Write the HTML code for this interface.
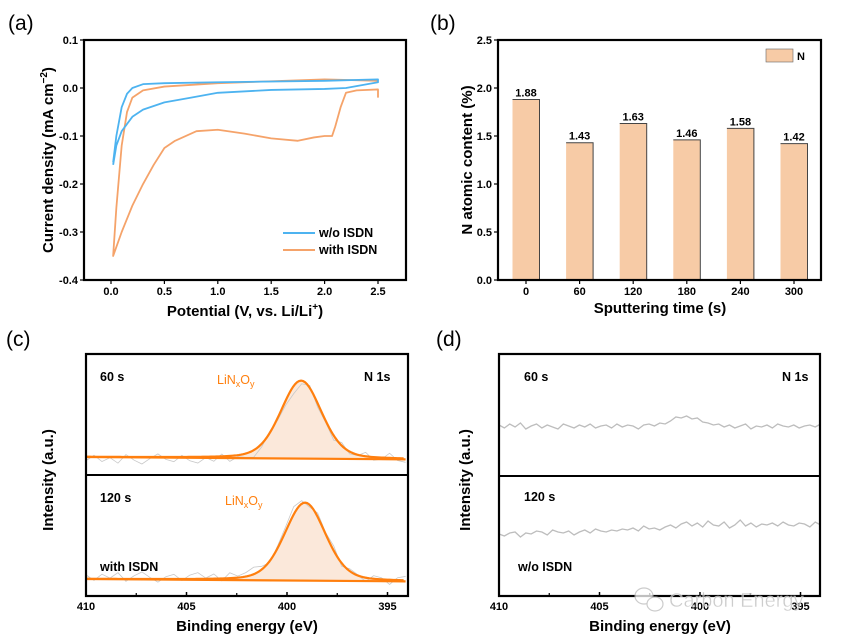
<!DOCTYPE html>
<html><head><meta charset="utf-8">
<style>
html,body{margin:0;padding:0;background:#fff;}
svg{display:block;font-family:"Liberation Sans",Arial,sans-serif;}
.tk{font-size:11px;font-weight:bold;fill:#000;}
.at{font-size:15px;font-weight:bold;fill:#000;}
.pl{font-size:21px;fill:#000;}
.lb{font-size:12.5px;font-weight:bold;fill:#000;}
</style></head>
<body>
<svg id="fig" width="841" height="638" viewBox="0 0 841 638"></svg>
<script>
// ---- Panel (a) data ----
const cvBlueV=[0.02,0.05,0.1,0.15,0.2,0.3,0.5,1.0,2.0,2.5,2.5,2.2,2.0,1.5,1.0,0.75,0.5,0.3,0.2,0.1,0.05,0.02];
const cvBlueI=[-0.155,-0.1,-0.04,-0.012,0.0,0.008,0.01,0.012,0.015,0.018,0.012,0.0,-0.002,-0.004,-0.01,-0.02,-0.03,-0.045,-0.06,-0.09,-0.12,-0.16];
const cvOrangeV=[2.5,2.5,2.3,2.2,2.15,2.1,2.07,2.0,1.9,1.75,1.5,1.25,1.0,0.8,0.6,0.5,0.4,0.3,0.2,0.1,0.02,0.05,0.1,0.15,0.2,0.3,0.5,1.0,2.0,2.5];
const cvOrangeI=[-0.02,-0.003,-0.005,-0.01,-0.04,-0.08,-0.1,-0.1,-0.103,-0.11,-0.105,-0.095,-0.087,-0.09,-0.11,-0.125,-0.16,-0.2,-0.245,-0.3,-0.35,-0.25,-0.12,-0.05,-0.02,-0.005,0.003,0.01,0.018,0.015];
const aXTicks=[0,0.5,1.0,1.5,2.0,2.5];
const aYTicks=[0.1,0,-0.1,-0.2,-0.3,-0.4];
// ---- Panel (b) data ----
const bCats=["0","60","120","180","240","300"];
const bVals=[1.88,1.43,1.63,1.46,1.58,1.42];
const bYTicks=[0,0.5,1.0,1.5,2.0,2.5];
// ---- Panel (c) data ----
const xpsTicks=[410,405,400,395];
const cCenters=[399.3,399.1];
const cFwhm=[2.4,2.4];
const cHeights=[1,1];
const cResid=[0.05,-0.02,0.06,0.01,0.08,-0.03,0.04,0.09,0.02,-0.04,0.03,0.06,-0.02,0.05,0.08,0.01,0.06,-0.03,0.07,0.02,0.05,0.09,0.04,-0.02,0.03,0.06,0.1,0.04,-0.03,0.05,0.02,0.06,-0.04,0.03,0.01,-0.05,0.04,0.02,-0.06,0.03,0.05];
// ---- Panel (d) data ----
const dTop=[0.2,-0.1,0.3,0,0.4,-0.2,0.1,0.3,-0.1,0.2,0,-0.2,0.3,0.1,-0.1,0.2,0,0.3,-0.1,0.1,0.2,-0.1,0.3,0,0.2,0.1,-0.2,0.2,0.3,0.1,0.4,0.3,0.6,1.0,0.9,1.1,0.8,0.9,0.5,0.4,0.2,0.3,0,0.2,-0.1,0.1,0.3,-0.2,0.1,0,0.2,-0.1,0.3,0.1,0,0.2,-0.1,0.1,0.2,0,0.3];
const dBot=[0,-0.2,0.1,0.2,-0.3,0.1,0,0.3,0.2,-0.1,0.4,0.2,0.1,0.3,-0.1,0.2,0.4,0.1,0.5,0.3,0.2,0.4,0.3,0.5,0.4,0.6,0.3,0.8,0.5,0.6,0.4,0.7,0.9,0.6,1.0,1.2,0.8,1.1,0.7,1.3,0.9,0.8,1.2,0.6,0.9,1.4,0.8,1.1,0.7,1.0,0.9,1.1,0.8,1.2,0.9,0.8,1.1,1.0,0.7,1.2,0.9];

const NS="http://www.w3.org/2000/svg";
const svg=document.getElementById('fig');
function mk(tag,attrs,parent,txt){const e=document.createElementNS(NS,tag);for(const k in attrs)e.setAttribute(k,attrs[k]);if(txt!==undefined)e.textContent=txt;(parent||svg).appendChild(e);return e;}
function pathD(xs,ys){return xs.map((x,i)=>(i?'L':'M')+x.toFixed(2)+','+ys[i].toFixed(2)).join('');}

// ===== Panel (a) =====
const ax=v=>111+(v-0)*(378-111)/2.5;
const ay=v=>280-(v+0.4)*(240/0.5);
let t=mk('text',{x:8,y:30,class:'pl'},svg,'(a)');


aYTicks.forEach(v=>{
 const l=mk('line',{x1:84,x2:80,y1:ay(v),y2:ay(v),stroke:'#000','stroke-width':1.2});
 
 
 const tx=mk('text',{x:78,y:ay(v)+4,class:'tk','text-anchor':'end'},svg,v===0?'0.0':v.toFixed(1));
 
 
});
aXTicks.forEach(v=>{
 const l=mk('line',{x1:ax(v),x2:ax(v),y1:280,y2:284,stroke:'#000','stroke-width':1.2});
 
 
 const tx=mk('text',{x:ax(v),y:295,class:'tk','text-anchor':'middle'},svg,v.toFixed(1));
 
 
});
let p=mk('path',{d:pathD(cvOrangeV.map(ax),cvOrangeI.map(ay)),fill:'none',stroke:'#f5a36a','stroke-width':1.8,'stroke-linejoin':'round'});


p=mk('path',{d:pathD(cvBlueV.map(ax),cvBlueI.map(ay)),fill:'none',stroke:'#4db3f0','stroke-width':1.8,'stroke-linejoin':'round'});


let r=mk('rect',{x:84,y:40,width:322,height:240,fill:'none',stroke:'#000','stroke-width':2.2});


let l=mk('line',{x1:283,x2:315,y1:233,y2:233,stroke:'#4db3f0','stroke-width':2});


t=mk('text',{x:319,y:237,class:'lb'},svg,'w/o ISDN');


l=mk('line',{x1:283,x2:315,y1:250,y2:250,stroke:'#f5a36a','stroke-width':2});


t=mk('text',{x:319,y:254,class:'lb'},svg,'with ISDN');


t=mk('text',{x:245,y:316,class:'at','text-anchor':'middle'});
t.innerHTML='Potential (V, vs. Li/Li<tspan dy="-6" font-size="10">+</tspan><tspan dy="6">)</tspan>';


t=mk('text',{x:0,y:0,class:'at','text-anchor':'middle',transform:'translate(53,160) rotate(-90)'});
t.innerHTML='Current density (mA cm<tspan dy="-6" font-size="10">−2</tspan><tspan dy="6">)</tspan>';



// ===== Panel (b) =====
const bx=i=>526+i*53.6;
const by=v=>280-v*(240/2.5);
t=mk('text',{x:430,y:30,class:'pl'},svg,'(b)');


bYTicks.forEach(v=>{
 const l=mk('line',{x1:498,x2:494,y1:by(v),y2:by(v),stroke:'#000','stroke-width':1.2});
 
 
 const tx=mk('text',{x:492,y:by(v)+4,class:'tk','text-anchor':'end'},svg,v.toFixed(1));
 
 
});
bCats.forEach((c,i)=>{
 const x=bx(i),v=bVals[i];
 const rc=mk('rect',{x:x-13.5,y:by(v),width:27,height:280-by(v),fill:'#f7cba6'});
 
 
 const e=mk('path',{d:`M${x-13.5},${by(v)}H${x+13.5}V280`,fill:'none',stroke:'#444','stroke-width':1});
 
 
 const tx=mk('text',{x:x,y:by(v)-3,class:'tk','text-anchor':'middle'},svg,v.toFixed(2));
 
 
 const tk=mk('line',{x1:x,x2:x,y1:280,y2:284,stroke:'#000','stroke-width':1.2});
 
 
 const cl=mk('text',{x:x,y:295,class:'tk','text-anchor':'middle'},svg,c);
 
 
});
r=mk('rect',{x:498,y:40,width:323,height:240,fill:'none',stroke:'#000','stroke-width':2.2});


r=mk('rect',{x:766,y:49,width:27,height:13,fill:'#f7cba6',stroke:'#666','stroke-width':0.6});


t=mk('text',{x:797,y:60,class:'tk'},svg,'N');


t=mk('text',{x:660,y:313,class:'at','text-anchor':'middle'},svg,'Sputtering time (s)');


t=mk('text',{x:0,y:0,class:'at','text-anchor':'middle',transform:'translate(472,160) rotate(-90)'},svg,'N atomic content (%)');



// ===== XPS helper =====
function pv(e,c,f,h){const s=f/2.3548,g=Math.exp(-0.5*((e-c)/s)**2),lz=1/(1+((e-c)/(f/2))**2);return h*(0.75*g+0.25*lz);}
function xpsAxes(x0,x1,name){
 const sx=e=>x0+(410-e)*20.1;
 xpsTicks.forEach(v=>{
  const l=mk('line',{x1:sx(v),x2:sx(v),y1:596,y2:592,stroke:'#000','stroke-width':1.5});
  
  
  const tx=mk('text',{x:sx(v),y:610,class:'tk','text-anchor':'middle'},svg,String(v));
  
  
 });
 [407.5,402.5,397.5].forEach(v=>{
  const l=mk('line',{x1:sx(v),x2:sx(v),y1:596,y2:593,stroke:'#000','stroke-width':1.2});
  
  
 });
 return sx;
}

// ===== Panel (c) =====
t=mk('text',{x:6,y:346,class:'pl'},svg,'(c)');


const csx=xpsAxes(86,408,'c');
const cBase=[457,579];
cCenters.forEach((c,k)=>{
 const es=[];for(let e=410;e>=394.1;e-=0.1)es.push(e);
 const xs=es.map(csx);
 const base=e=>cBase[k]+ (410-e)*0.15;
 const ys=es.map(e=>base(e)-78*pv(e,c,cFwhm[k],cHeights[k]));
 const fill=mk('path',{d:pathD(xs,ys)+pathD(xs.slice().reverse(),es.slice().reverse().map(base)).replace('M','L')+'Z',fill:'#fbe8da',stroke:'none'});
 
 
 const re=cResid.map((_,i)=>410-i*15.9/(cResid.length-1));
 const rys=re.map((e,i)=>base(e)-78*pv(e,c,cFwhm[k],cHeights[k])-78*cResid[i]*(k?1:-1));
 const raw=mk('path',{d:pathD(re.map(csx),rys),fill:'none',stroke:'#c8c8c8','stroke-width':0.8});
 
 
 const bl=mk('line',{x1:csx(410),x2:csx(394.1),y1:base(410),y2:base(394.1),stroke:'#ff7f0e','stroke-width':2.2});
 
 
 const fit=mk('path',{d:pathD(xs,ys),fill:'none',stroke:'#ff7f0e','stroke-width':2.2});
 
 
});
r=mk('rect',{x:86,y:354,width:322,height:242,fill:'none',stroke:'#000','stroke-width':2.2});


l=mk('line',{x1:86,x2:408,y1:475,y2:475,stroke:'#000','stroke-width':2});


[['60 s',100,381,'c-label-60s'],['N 1s',364,381,'c-label-n1s'],['120 s',100,502,'c-label-120s'],['with ISDN',100,571,'c-label-with-isdn']].forEach(a=>{
 const tx=mk('text',{x:a[1],y:a[2],class:'lb'},svg,a[0]);
 
 
});
[[217,384],[225,505]].forEach((a,i)=>{
 const tx=mk('text',{x:a[0],y:a[1],class:'lb',fill:'#ff7f0e',style:'fill:#ff7f0e;font-weight:normal'});
 tx.innerHTML='LiN<tspan dy="3" font-size="9">x</tspan><tspan dy="-3">O</tspan><tspan dy="3" font-size="9">y</tspan>';
 
 
});
t=mk('text',{x:247,y:631,class:'at','text-anchor':'middle'},svg,'Binding energy (eV)');


t=mk('text',{x:0,y:0,class:'at','text-anchor':'middle',transform:'translate(53,480) rotate(-90)'},svg,'Intensity (a.u.)');



// ===== Panel (d) =====
t=mk('text',{x:436,y:346,class:'pl'},svg,'(d)');


const dsx=xpsAxes(499,820,'d');
[[dTop,427,'noise-spectrum-60s'],[dBot,534,'noise-spectrum-120s']].forEach(a=>{
 const arr=a[0];
 const xs=arr.map((_,i)=>dsx(410-i*16/(arr.length-1)));
 const ys=arr.map(v=>a[1]-v*10);
 const pp=mk('path',{d:pathD(xs,ys),fill:'none',stroke:'#bdbdbd','stroke-width':1.3});
 
 
});
r=mk('rect',{x:499,y:354,width:321,height:242,fill:'none',stroke:'#000','stroke-width':2.2});


l=mk('line',{x1:499,x2:820,y1:476,y2:476,stroke:'#000','stroke-width':2});


[['60 s',524,381,'d-label-60s'],['N 1s',782,381,'d-label-n1s'],['120 s',524,501,'d-label-120s'],['w/o ISDN',518,571,'d-label-without-isdn']].forEach(a=>{
 const tx=mk('text',{x:a[1],y:a[2],class:'lb'},svg,a[0]);
 
 
});
t=mk('text',{x:660,y:631,class:'at','text-anchor':'middle'},svg,'Binding energy (eV)');


t=mk('text',{x:0,y:0,class:'at','text-anchor':'middle',transform:'translate(470,480) rotate(-90)'},svg,'Intensity (a.u.)');


// watermark
let g=mk('g',{opacity:0.75});


mk('ellipse',{cx:644,cy:596,rx:9,ry:8,fill:'#fff',stroke:'#bbb','stroke-width':1.2},g);
mk('ellipse',{cx:655,cy:604,rx:8,ry:7,fill:'#fff',stroke:'#bbb','stroke-width':1.2},g);
mk('text',{x:669,y:607,'font-size':20,fill:'#bdbdbd',stroke:'#fff','stroke-width':0.4},g,'Carbon Energy');
</script>
</body></html>
